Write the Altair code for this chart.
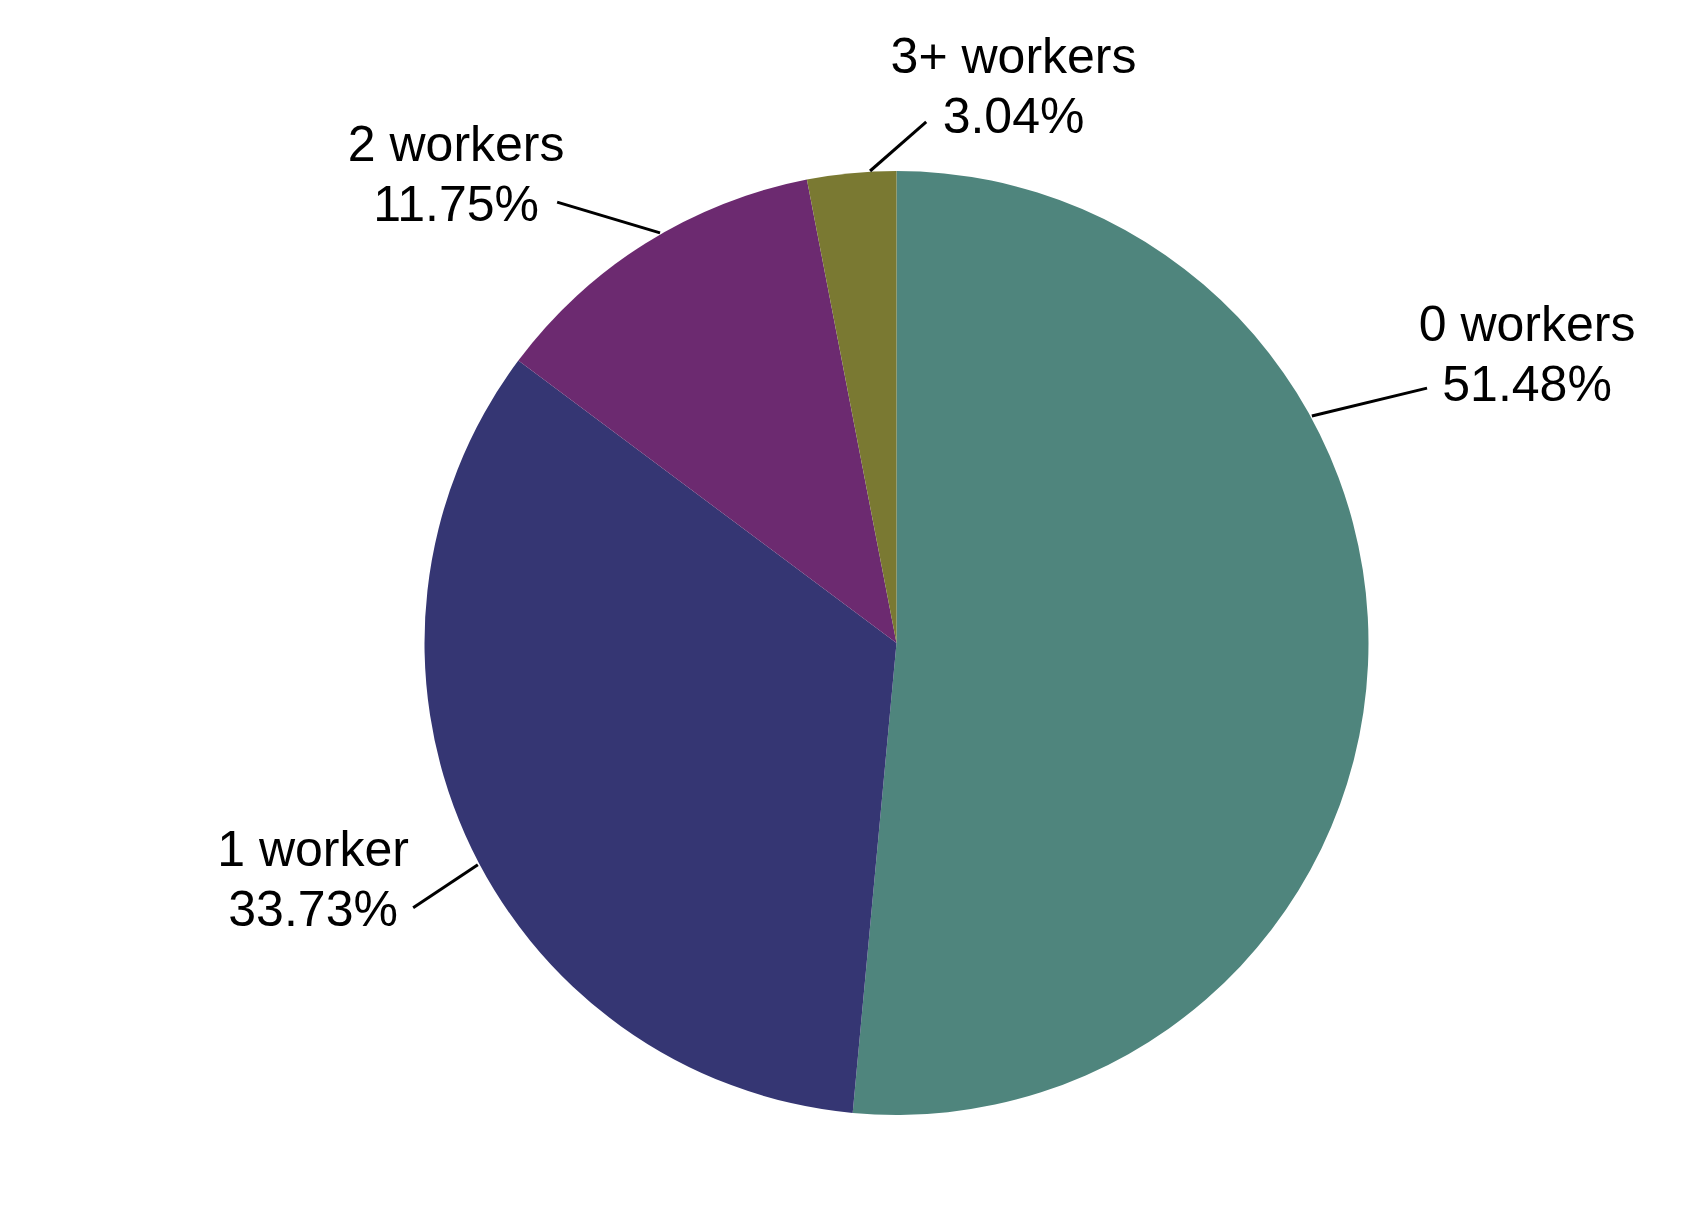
import altair as alt
import pandas as pd

# ---- data ----
categories = ["0 workers", "1 worker", "2 workers", "3+ workers"]
shares = [51.48, 33.73, 11.75, 3.04]
slice_colors = ["#4F857D", "#353673", "#6C2A70", "#7A7932"]

# ---- label layout (pie-radius units, relative to pie centre, y up) ----
label_x = [1.336, -1.236, -0.933, 0.248]
label_y = [0.608, -0.505, 0.989, 1.176]
leader_x0 = [0.880, -0.887, -0.501, -0.056]
leader_y0 = [0.481, -0.470, 0.869, 1.000]
leader_x1 = [1.124, -1.024, -0.719, 0.063]
leader_y1 = [0.540, -0.561, 0.934, 1.104]

df = pd.DataFrame({
    "category": categories,
    "share": shares,
    "order": list(range(len(categories))),
    "label": [f"{c}\n{s:.2f}%" for c, s in zip(categories, shares)],
    "tx": label_x, "ty": label_y,
    "lx0": leader_x0, "ly0": leader_y0,
    "lx1": leader_x1, "ly1": leader_y1,
})

R = 472
W, H = 1684, 1190
cx_px, cy_px = 888.5, 635.0
xs = alt.Scale(domain=[-cx_px / R, (W - cx_px) / R], nice=False, zero=False)
ys = alt.Scale(domain=[-(H - cy_px) / R, cy_px / R], nice=False, zero=False)

base = alt.Chart(df)

pie = base.transform_window(
    cum="sum(share)", sort=[alt.SortField("order")], frame=[None, 0]
).transform_calculate(
    start="datum.cum - datum.share", cx="0", cy="0"
).mark_arc(outerRadius=R).encode(
    theta=alt.Theta("start:Q", scale=alt.Scale(domain=[0, 100], range=[0, 6.283185307179586])),
    theta2=alt.Theta2("cum:Q"),
    color=alt.Color("category:N", scale=alt.Scale(domain=categories, range=slice_colors), legend=None),
    x=alt.X("cx:Q", scale=xs, axis=None),
    y=alt.Y("cy:Q", scale=ys, axis=None),
)

leaders = base.mark_rule(color="black", strokeWidth=3).encode(
    x=alt.X("lx0:Q", scale=xs, axis=None),
    y=alt.Y("ly0:Q", scale=ys, axis=None),
    x2="lx1:Q",
    y2="ly1:Q",
)

labels = base.mark_text(
    lineBreak="\n", fontSize=50, font="Liberation Sans", align="center",
    baseline="middle", lineHeight=60, dy=-30, color="black"
).encode(
    x=alt.X("tx:Q", scale=xs, axis=None),
    y=alt.Y("ty:Q", scale=ys, axis=None),
    text="label:N",
)

chart = alt.layer(pie, leaders, labels).properties(
    width=W, height=H, padding=0
).configure_view(stroke=None)

chart.save("out.html", embed_options={"renderer": "svg", "actions": False})
